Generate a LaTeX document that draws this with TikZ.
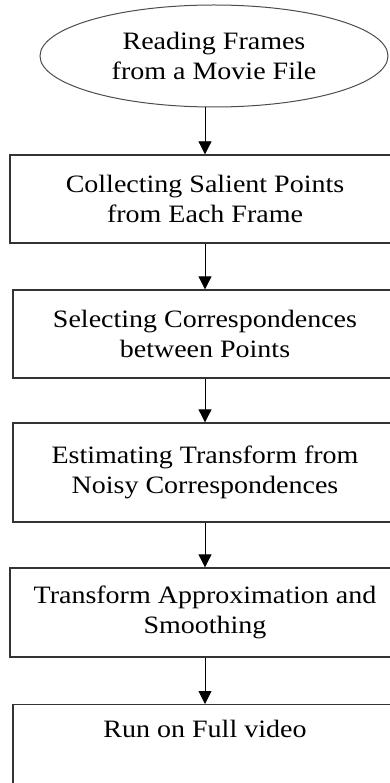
\documentclass[tikz,border=0pt]{standalone}
\usepackage{fontspec}
\setmainfont{Liberation Serif}[FakeStretch=1.12]
\usepackage{tikz}
\usetikzlibrary{shapes.geometric,arrows.meta}

\begin{document}
\begin{tikzpicture}[x=1pt,y=-1pt,font=\fontsize{25}{30}\selectfont,
  stage/.style={draw=black!80,line width=1.3pt,rectangle,align=center,inner sep=0pt},
  flow/.style={thick,-{Triangle[width=13pt,length=13pt]}}]
\useasboundingbox (0,0) rectangle (390,783);
\clip (0,0) rectangle (390,783);
% start
\node [draw=black!70,line width=1pt,ellipse,minimum width=348pt,minimum height=102pt,inner sep=0pt,align=center] (r) at(214,56){Reading Frames\\from a Movie File};
% steps
\node [stage,minimum width=390pt,minimum height=88pt] (c) at(205,199){Collecting Salient Points\\from Each Frame};
\node [stage,minimum width=384pt,minimum height=88pt] (s) at(205,334){Selecting Correspondences\\between Points};
\node [stage,minimum width=384pt,minimum height=99pt] (e) at(205,472.5){Estimating Transform from\\Noisy Correspondences};
\node [stage,minimum width=390pt,minimum height=89pt] (t) at(205,612.5){Transform Approximation and\\Smoothing};
\node [stage,minimum width=384pt,anchor=north,inner ysep=16pt,text height=17pt,text depth=50pt] (f) at(205,704){Run on Full video};
\draw[flow](r.south -| c.north) -- (c);
\draw[flow](c) -- (s);
\draw[flow](s) -- (e);
\draw[flow](e) -- (t);
\draw[flow](t) -- (f);
\end{tikzpicture}
\end{document}
